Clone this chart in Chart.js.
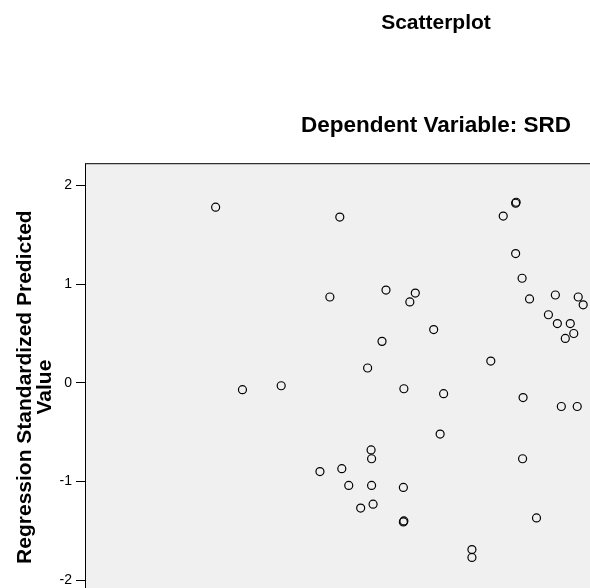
<!DOCTYPE html>
<html>
<head>
<meta charset="utf-8">
<script src="https://cdn.jsdelivr.net/npm/chart.js@4/dist/chart.umd.min.js"></script>
<style>
  html, body { margin: 0; padding: 0; overflow: hidden; background: #ffffff; }
  canvas { display: block; }
</style>
</head>
<body>
<canvas id="c" width="872" height="640"></canvas>
<script>
// ---- data ----
const chartTitle = "Scatterplot";
const chartSubtitle = "Dependent Variable: SRD";
const yAxisTitle = ["Regression Standardized Predicted", "Value"];
const xAxisTitle = "SRD";

const xValues = [26.3, 51.3, 49.3, 31.7, 39.5, 47.3, 86.7, 86.8, 84.2, 86.7,
                 88.0, 60.6, 66.5, 65.4, 89.5, 94.7, 99.3, 100.3, 93.3, 95.1,
                 97.7, 98.4, 96.7, 70.2, 59.8, 56.9, 81.7, 64.2, 72.2, 88.2,
                 95.9, 99.1, 71.5, 57.6, 57.7, 88.1, 51.7, 53.1, 57.7, 64.1,
                 55.5, 58.0, 64.1, 64.2, 90.9, 77.9, 77.9];
const yValues = [1.78, 1.68, 0.87, -0.07, -0.03, -0.90, 1.82, 1.83, 1.69, 1.31,
                 1.06, 0.94, 0.91, 0.82, 0.85, 0.89, 0.87, 0.79, 0.69, 0.60,
                 0.60, 0.50, 0.45, 0.54, 0.42, 0.15, 0.22, -0.06, -0.11, -0.15,
                 -0.24, -0.24, -0.52, -0.68, -0.77, -0.77, -0.87, -1.04, -1.04, -1.06,
                 -1.27, -1.23, -1.41, -1.40, -1.37, -1.69, -1.77];
const yTickValues = [-2, -1, 0, 1, 2];
const yRange = [-2.313, 2.226];
const xRange = [0, 157.4];

const points = xValues.map((x, i) => ({ x: x, y: yValues[i] }));

const frame = {
  id: 'frame',
  beforeDatasetsDraw(chart) {
    const a = chart.chartArea, ctx = chart.ctx;
    ctx.save();
    ctx.fillStyle = '#f0f0f0';
    ctx.fillRect(a.left, a.top, a.right - a.left, a.bottom - a.top);
    ctx.restore();
  },
  afterDatasetsDraw(chart) {
    const a = chart.chartArea, ctx = chart.ctx;
    ctx.save();
    ctx.strokeStyle = '#000';
    ctx.lineWidth = 1;
    ctx.strokeRect(a.left + 0.5, a.top + 0.5, a.right - a.left - 1, a.bottom - a.top - 1);
    ctx.restore();
  }
};

Chart.defaults.font.family = '"Liberation Sans", Arial, sans-serif';
Chart.defaults.color = '#000';

new Chart(document.getElementById('c'), {
  type: 'scatter',
  data: {
    datasets: [{
      data: points,
      pointStyle: 'circle',
      pointRadius: 4,
      pointBorderWidth: 1.2,
      borderColor: '#000',
      backgroundColor: 'rgba(0,0,0,0)',
      pointHoverRadius: 4
    }]
  },
  plugins: [frame],
  options: {
    responsive: false,
    animation: false,
    events: [],
    layout: { padding: { left: 0, right: 0, top: 0, bottom: 29 } },
    plugins: {
      legend: { display: false },
      tooltip: { enabled: false },
      title: {
        display: true,
        text: chartTitle,
        color: '#000',
        font: { size: 21, weight: 'bold' },
        padding: { top: 11, bottom: 0 }
      },
      subtitle: {
        display: true,
        text: chartSubtitle,
        color: '#000',
        font: { size: 22.5, weight: 'bold' },
        padding: { top: 76, bottom: 24 }
      }
    },
    scales: {
      x: {
        type: 'linear',
        display: false,
        min: xRange[0],
        max: xRange[1],
        title: { display: true, text: xAxisTitle }
      },
      y: {
        type: 'linear',
        min: yRange[0],
        max: yRange[1],
        afterBuildTicks(scale) {
          scale.ticks = yTickValues.map(v => ({ value: v }));
        },
        afterFit(scale) { scale.width = 85; },
        ticks: {
          color: '#000',
          font: { size: 14 },
          padding: 4,
          callback: v => String(v)
        },
        grid: {
          drawOnChartArea: false,
          drawTicks: true,
          tickLength: 9,
          color: '#000',
          lineWidth: 1
        },
        border: { display: true, color: '#000', width: 1 },
        title: {
          display: true,
          text: yAxisTitle,
          color: '#000',
          font: { size: 21, weight: 'bold', lineHeight: 0.95 },
          padding: { top: 15, bottom: 0 }
        }
      }
    }
  }
});
</script>
</body>
</html>
